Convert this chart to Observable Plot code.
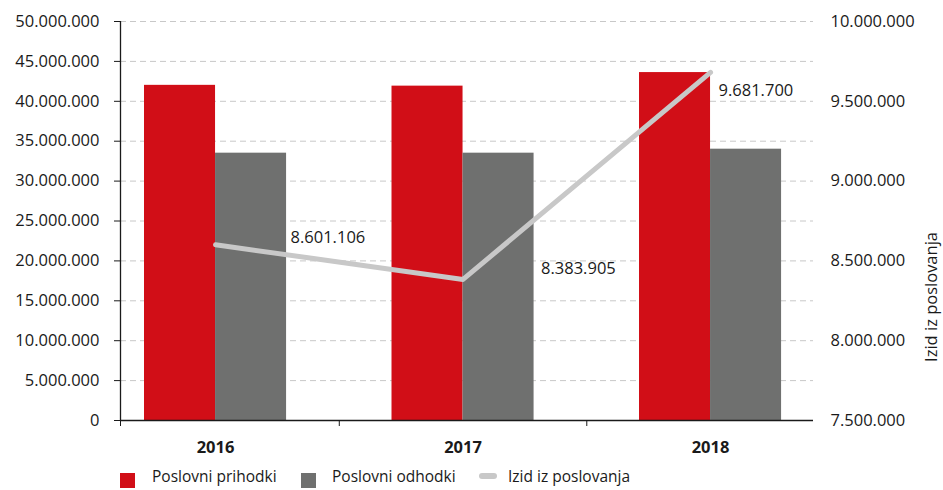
<!DOCTYPE html>
<html>
<head>
<meta charset="utf-8">
<script src="https://cdn.jsdelivr.net/npm/d3@7"></script>
<script src="https://cdn.jsdelivr.net/npm/@observablehq/plot@0.6"></script>
<style>
  body { margin: 0; background: #fff; font-family: "Open Sans", sans-serif; }
  #legend { position: relative; height: 28px; font-size: 15.5px; color: #1a1a1a; }
  #legend span { position: absolute; }
  .sw { width: 15px; height: 15px; top: 11px; }
  .line-sw { width: 18px; height: 6px; border-radius: 3px; background: #c8c8c8; top: 11px; }
  .lbl { top: 3px; line-height: 22px; white-space: nowrap; }
</style>
</head>
<body>
<div id="chart"></div>
<div id="legend"></div>
<script>
const years = [2016, 2017, 2018];
const prihodki = [42000000, 41900000, 43600000];
const odhodki = [33500000, 33500000, 34000000];
const izid = [8601106, 8383905, 9681700];
const seriesNames = ["Poslovni prihodki", "Poslovni odhodki", "Izid iz poslovanja"];
const seriesColors = ["#d10e17", "#6f706f", "#c8c8c8"];
const leftTicks = [0, 5e6, 10e6, 15e6, 20e6, 25e6, 30e6, 35e6, 40e6, 45e6, 50e6];
const rightTicks = [7.5e6, 8e6, 8.5e6, 9e6, 9.5e6, 10e6];
const rightTitle = "Izid iz poslovanja";

const fmt = d3.formatLocale({decimal: ",", thousands: ".", grouping: [3], currency: ["", ""]}).format(",");

// right axis (7.5M..10M) mapped onto left scale (0..50M)
const rMin = 7.5e6, rMax = 10e6, lMax = 50e6;
const toLeft = v => (v - rMin) / (rMax - rMin) * lMax;
const fromLeft = v => rMin + v / lMax * (rMax - rMin);

const data = years.map((y, i) => ({year: y, p: prihodki[i], o: odhodki[i], z: izid[i], zl: toLeft(izid[i])}));

const xDomain = [2015.616, 2018.416];
const bw = 0.287;

const labelStyle = {fill: "#1a1a1a", fontSize: 16.5, textAnchor: "start"};

const chart = Plot.plot({
  width: 943,
  height: 462,
  marginLeft: 120,
  marginRight: 130,
  marginTop: 21,
  marginBottom: 42,
  style: {fontFamily: "Open Sans, sans-serif", fontSize: "16.5px", color: "#1a1a1a", background: "#fff"},
  x: {type: "linear", domain: xDomain},
  y: {domain: [0, lMax]},
  marks: [
    Plot.gridY(leftTicks, {stroke: "#c8c8c8", strokeOpacity: 1, strokeDasharray: "6,4"}),
    Plot.rectY(data, {x1: d => d.year - bw, x2: d => d.year, y: "p", fill: seriesColors[0]}),
    Plot.rectY(data, {x1: d => d.year, x2: d => d.year + bw, y: "o", fill: seriesColors[1]}),
    Plot.line(data, {x: "year", y: "zl", stroke: seriesColors[2], strokeWidth: 5, strokeLinecap: "round", strokeLinejoin: "round"}),
    Plot.text(data.filter((d, i) => i === 0), {x: "year", y: "zl", text: d => fmt(d.z), dx: 75, dy: -7, ...labelStyle}),
    Plot.text(data.filter((d, i) => i === 1), {x: "year", y: "zl", text: d => fmt(d.z), dx: 78, dy: -11, ...labelStyle}),
    Plot.text(data.filter((d, i) => i === 2), {x: "year", y: "zl", text: d => fmt(d.z), dx: 8, dy: 18, ...labelStyle}),
    Plot.axisY({ticks: leftTicks, tickFormat: fmt, tickSize: 6, tickPadding: 15, label: null, stroke: "#1a1a1a"}),
    Plot.axisY({anchor: "right", ticks: rightTicks.map(toLeft), tickFormat: d => fmt(Math.round(fromLeft(d))), tickSize: 0, tickPadding: 17, label: null}),
    Plot.ruleX([xDomain[0]], {y1: 0, y2: lMax, stroke: "#1a1a1a", strokeWidth: 1.3}),
    Plot.ruleY([0], {stroke: "#1a1a1a", strokeWidth: 1.3}),
    Plot.axisX({ticks: [xDomain[0], 2016.5, 2017.5], tickFormat: () => "", tickSize: 6, stroke: "#1a1a1a", label: null}),
    Plot.axisX({ticks: years, tickFormat: d => String(d), tickSize: 0, tickPadding: 21, fontWeight: "bold", fontSize: 16.5, label: null}),
    Plot.text([rightTitle], {frameAnchor: "right", dx: 118, dy: 11, rotate: -90, fontSize: 16.5, fill: "#1a1a1a"})
  ]
});
document.getElementById("chart").appendChild(chart);

// legend layout (pixel positions of swatches and labels)
const legend = document.getElementById("legend");
const swatchLeft = [120, 301, 479];
const labelLeft = [152, 332, 508];
seriesNames.forEach((name, i) => {
  const sw = document.createElement("span");
  if (i < 2) { sw.className = "sw"; sw.style.background = seriesColors[i]; }
  else { sw.className = "line-sw"; sw.style.top = "11px"; }
  sw.style.left = swatchLeft[i] + "px";
  const t = document.createElement("span");
  t.className = "lbl";
  t.textContent = name;
  t.style.left = labelLeft[i] + "px";
  legend.appendChild(sw); legend.appendChild(t);
});
</script>
</body>
</html>
